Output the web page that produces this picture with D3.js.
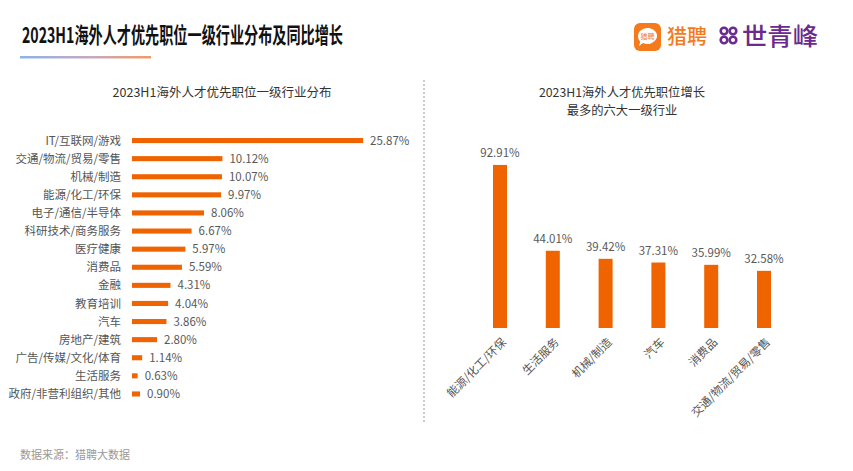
<!DOCTYPE html>
<html><head><meta charset="utf-8">
<script src="https://cdn.jsdelivr.net/npm/d3@7"></script>
<style>
html,body{margin:0;padding:0;background:#fff;}
text{font-family:"Noto Sans CJK SC","Noto Sans",sans-serif;}
</style></head>
<body>
<svg id="c" width="853" height="471"></svg>
<script>
// ---- data ----
const leftCategories = ["IT/互联网/游戏","交通/物流/贸易/零售","机械/制造","能源/化工/环保","电子/通信/半导体","科研技术/商务服务","医疗健康","消费品","金融","教育培训","汽车","房地产/建筑","广告/传媒/文化/体育","生活服务","政府/非营利组织/其他"];
const leftValues = [25.87,10.12,10.07,9.97,8.06,6.67,5.97,5.59,4.31,4.04,3.86,2.80,1.14,0.63,0.90];
const rightCategories = ["能源/化工/环保","生活服务","机械/制造","汽车","消费品","交通/物流/贸易/零售"];
const rightValues = [92.91,44.01,39.42,37.31,35.99,32.58];

const mainTitle = "2023H1海外人才优先职位一级行业分布及同比增长";
const leftTitle = "2023H1海外人才优先职位一级行业分布";
const rightTitle = ["2023H1海外人才优先职位增长","最多的六大一级行业"];
const source = "数据来源：猎聘大数据";

const ORANGE = "#f06400";
const svg = d3.select("#c");

// gradient
const defs = svg.append("defs");
const g1 = defs.append("linearGradient").attr("id","ul").attr("x1","0%").attr("x2","100%");
g1.append("stop").attr("offset","0%").attr("stop-color","#8ab4ea");
g1.append("stop").attr("offset","55%").attr("stop-color","#c8a8c0");
g1.append("stop").attr("offset","100%").attr("stop-color","#f29a62");

// main title
svg.append("text").attr("x",22).attr("y",42.5).attr("font-size",21.5).attr("font-weight","bold")
  .attr("fill","#111").attr("textLength",321).attr("lengthAdjust","spacingAndGlyphs").text(mainTitle);
svg.append("rect").attr("x",20).attr("y",56).attr("width",131).attr("height",2.5).attr("fill","url(#ul)");

// logos
const lg = svg.append("g");
lg.append("rect").attr("x",634).attr("y",23).attr("width",27).attr("height",28).attr("rx",6).attr("fill","#f47a1c");
lg.append("path").attr("d","M638,36 a9.5,8 0 1 1 5,7 l-4,3 l1.2,-4.2 a9,8 0 0 1 -2.2,-5.8 z").attr("fill","#fff");
lg.append("text").attr("x",647.5).attr("y",39).attr("text-anchor","middle").attr("font-size",7).attr("fill","#f47a1c").text("猎聘");
lg.append("text").attr("x",667).attr("y",44).attr("font-size",20).attr("font-weight","500").attr("fill","#f47a1c").text("猎聘");
const P = "#6a2a8e";
[[724,31],[733,31],[724,40],[733,40]].forEach(d=>{
  lg.append("circle").attr("cx",d[0]).attr("cy",d[1]).attr("r",3.3).attr("fill","none").attr("stroke",P).attr("stroke-width",2.6);
});
lg.append("text").attr("x",742).attr("y",45).attr("font-size",24).attr("font-weight","500").attr("fill",P)
  .attr("textLength",76).attr("lengthAdjust","spacingAndGlyphs").text("世青峰");

// divider
svg.append("line").attr("x1",424).attr("x2",424).attr("y1",80).attr("y2",423)
  .attr("stroke","#9a9a9a").attr("stroke-width",1).attr("stroke-dasharray","2,2");

// left chart
svg.append("text").attr("x",222).attr("y",97).attr("text-anchor","middle").attr("font-size",12.5).attr("fill","#333").text(leftTitle);
const ly = d3.scaleBand().domain(leftCategories).range([131.5,403]).paddingInner(0.72).paddingOuter(0.36);
const lx = d3.scaleLinear().domain([0,30]).range([132,400]);
const lgp = svg.append("g");
lgp.selectAll("rect").data(leftValues).join("rect")
  .attr("x",lx(0)).attr("y",(d,i)=>ly(leftCategories[i])).attr("height",ly.bandwidth())
  .attr("width",d=>lx(d)-lx(0)).attr("fill",ORANGE);
lgp.selectAll("text.v").data(leftValues).join("text").attr("class","v")
  .attr("x",d=>lx(d)+7).attr("y",(d,i)=>ly(leftCategories[i])+ly.bandwidth()/2).attr("dy","0.36em")
  .attr("font-size",11.5).attr("fill","#595959").text(d=>d.toFixed(2)+"%");
lgp.selectAll("text.c").data(leftCategories).join("text").attr("class","c")
  .attr("x",121).attr("y",d=>ly(d)+ly.bandwidth()/2).attr("dy","0.36em").attr("text-anchor","end")
  .attr("font-size",11.5).attr("fill","#555").text(d=>d);

// right chart
svg.append("text").attr("x",622).attr("y",96.5).attr("text-anchor","middle").attr("font-size",12.3).attr("fill","#333").text(rightTitle[0]);
svg.append("text").attr("x",622).attr("y",114.5).attr("text-anchor","middle").attr("font-size",12.3).attr("fill","#333").text(rightTitle[1]);
const rx = d3.scaleBand().domain(rightCategories).range([473.6,790.4]).paddingInner(0.735).paddingOuter(0.3675);
const ry = d3.scaleLinear().domain([0,100]).range([328,152.5]);
const rg = svg.append("g");
rg.selectAll("rect").data(rightValues).join("rect")
  .attr("x",(d,i)=>rx(rightCategories[i])).attr("width",rx.bandwidth())
  .attr("y",d=>ry(d)).attr("height",d=>ry(0)-ry(d)).attr("fill",ORANGE);
rg.selectAll("text.v").data(rightValues).join("text").attr("class","v")
  .attr("x",(d,i)=>rx(rightCategories[i])+rx.bandwidth()/2).attr("y",d=>ry(d)-8)
  .attr("text-anchor","middle").attr("font-size",11.5).attr("fill","#595959").text(d=>d.toFixed(2)+"%");
rg.selectAll("text.c").data(rightCategories).join("text").attr("class","c")
  .attr("transform",d=>`translate(${rx(d)+rx.bandwidth()/2+4},${340}) rotate(-45)`)
  .attr("text-anchor","end").attr("dy","0.36em").attr("font-size",11.5).attr("fill","#555").text(d=>d);

// source
svg.append("text").attr("x",20).attr("y",459).attr("font-size",11).attr("fill","#999").text(source);
</script>
</body></html>
